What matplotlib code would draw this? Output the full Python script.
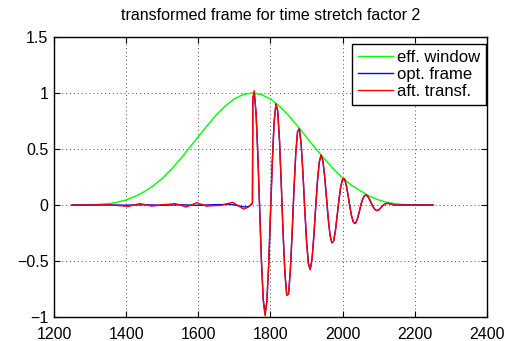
import numpy as np
import matplotlib
matplotlib.use("Agg")
import matplotlib.pyplot as plt

plt.rcParams["font.family"] = ["Liberation Sans", "DejaVu Sans"]

# Effective analysis window
window_x = np.arange(1250, 2251, 25)
window_y = [0.0, 0.001, 0.003, 0.006, 0.011, 0.024, 0.045, 0.078, 0.118, 0.172,
            0.238, 0.318, 0.410, 0.510, 0.610, 0.710, 0.805, 0.885, 0.948, 0.987,
            1.000, 0.986, 0.946, 0.882, 0.800, 0.705, 0.605, 0.505, 0.410, 0.320,
            0.240, 0.175, 0.125, 0.078, 0.045, 0.022, 0.009, 0.003, 0.001, 0.0, 0.0]

# Frame before the onset (x < 1750)
opt_pre_x = [1250, 1300, 1350, 1400, 1450, 1500, 1550, 1600, 1640, 1670, 1690,
             1705, 1715, 1725, 1735, 1742, 1747, 1750]
opt_pre_y = [0.0, 0.0, 0.001, -0.002, 0.002, -0.002, 0.002, -0.003, 0.002, 0.004,
             0.006, -0.002, -0.010, -0.016, -0.017, -0.010, 0.004, 0.015]

aft_pre_x = [1250, 1300, 1340, 1370, 1390, 1406, 1422, 1438, 1455, 1471, 1487,
             1502, 1518, 1535, 1550, 1566, 1580, 1595, 1609, 1623, 1640, 1660,
             1678, 1695, 1710, 1725, 1738, 1746, 1750]
aft_pre_y = [0.0, 0.0, 0.002, -0.003, -0.008, -0.012, 0.0, 0.012, 0.002, -0.010,
             -0.004, 0.004, 0.006, 0.012, 0.0, -0.018, 0.0, 0.020, 0.006, -0.010,
             -0.006, -0.004, 0.010, 0.024, -0.005, -0.036, -0.020, 0.005, 0.020]

# Decaying oscillation after the onset (shared by both frames)
osc_x = np.r_[1751, np.arange(1755, 2171, 5), 2250]
osc_y = [0.955,
         0.994, 0.821, 0.444, -0.040, -0.511, -0.849, -0.975, -0.856, -0.528, -0.076,
         0.383, 0.738, 0.901, 0.839, 0.572, 0.173, -0.258, -0.612, -0.805, -0.795,
         -0.585, -0.245, 0.135, 0.459, 0.655, 0.682, 0.542, 0.278, -0.037, -0.330,
         -0.523, -0.576, -0.486, -0.285, -0.031, 0.208, 0.379, 0.445, 0.399, 0.260,
         0.071, -0.121, -0.268, -0.338, -0.322, -0.227, -0.088, 0.055, 0.170, 0.233,
         0.234, 0.178, 0.086, -0.016, -0.103, -0.155, -0.165, -0.133, -0.075, -0.005,
         0.050, 0.082, 0.089, 0.075, 0.047, 0.011, -0.020, -0.042, -0.050, -0.044,
         -0.027, -0.008, 0.005, 0.013, 0.014, 0.012, 0.007, 0.003, -0.001, -0.002,
         -0.002, -0.001, 0.0, 0.0,
         0.0]
aft_osc_changes = {1755: 1.02, 1785: -0.99}

x_ticks = [1200, 1400, 1600, 1800, 2000, 2200, 2400]
y_ticks = [-1, -0.5, 0, 0.5, 1, 1.5]
y_tick_labels = ["\u22121", "\u22120.5", "0", "0.5", "1", "1.5"]
labels = ["eff. window", "opt. frame", "aft. transf."]
title = "transformed frame for time stretch factor 2"

opt_x = np.r_[opt_pre_x, osc_x]
opt_y = np.r_[opt_pre_y, osc_y]
aft_osc_y = [aft_osc_changes.get(int(x), y) for x, y in zip(osc_x, osc_y)]
aft_x = np.r_[aft_pre_x, osc_x]
aft_y = np.r_[aft_pre_y, aft_osc_y]

fig = plt.figure(figsize=(5.06, 3.41), dpi=100)
ax = fig.add_axes([54 / 506, 1 - 317 / 341, 433 / 506, 280 / 341])

ax.plot(window_x, window_y, color=(0, 1, 0), lw=1.0, label=labels[0])
ax.plot(opt_x, opt_y, color=(0, 0, 1), lw=1.0, label=labels[1])
ax.plot(aft_x, aft_y, color=(1, 0, 0), lw=1.0, label=labels[2])

ax.set_xlim(1200, 2400)
ax.set_ylim(-1, 1.5)
ax.set_xticks(x_ticks)
ax.set_xticklabels([str(t) for t in x_ticks])
ax.set_yticks(y_ticks)
ax.set_yticklabels(y_tick_labels)
ax.tick_params(direction="in", length=4, width=0.8, top=True, right=True,
               labelsize=11.5, pad=4, colors="black")
ax.tick_params(axis="x", pad=7)
ax.grid(True, color=(0.3, 0.3, 0.3), linestyle=(0, (1, 3)), lw=0.7)
for s in ax.spines.values():
    s.set_linewidth(1.0)
    s.set_color("black")

ax.set_title(title, fontsize=11.5, pad=12)

leg = ax.legend(loc="upper right", bbox_to_anchor=(0.998, 0.975), borderaxespad=0,
                fancybox=False, framealpha=1, edgecolor="black", fontsize=12,
                handlelength=2.1, handletextpad=0.25, labelspacing=0.13,
                borderpad=0.35)
leg.get_frame().set_linewidth(1.0)

fig.savefig("out.png", dpi=100)
